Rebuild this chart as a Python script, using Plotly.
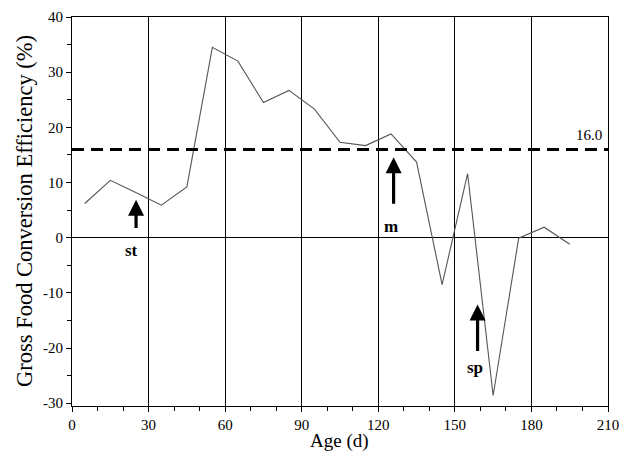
import plotly.graph_objects as go

age = [5, 15, 25, 35, 45, 55, 65, 75, 85, 95, 105, 115, 125, 135, 145, 155, 165, 175, 185, 195]
gce = [6.2, 10.4, 8.2, 5.9, 9.2, 34.5, 32.0, 24.5, 26.7, 23.3, 17.3, 16.7, 18.8, 13.7, -8.5, 11.6, -28.6, -0.1, 1.9, -1.2]
threshold = 16.0
x_ticks = [0, 30, 60, 90, 120, 150, 180, 210]
y_ticks = [-30, -20, -10, 0, 10, 20, 30, 40]
y_ticklabels = ["-30", "-20", "-10", "0", "10", "20", "30", "40"]

# arrows: label, x, tail y, head y, label y
arrow_labels = ["st", "m", "sp"]
arrow_x = [25.1, 126.0, 158.9]
arrow_tail = [1.5, 5.9, -20.8]
arrow_head = [6.9, 14.6, -12.1]
label_x = [23.4, 124.8, 158.0]
label_y = [-2.4, 2.0, -23.5]

serif = "Liberation Serif, Times New Roman, serif"

fig = go.Figure()
fig.add_trace(go.Scatter(x=age, y=gce, mode="lines",
                         line=dict(color="#555555", width=1.1), showlegend=False))
fig.add_trace(go.Scatter(x=[0, 210], y=[threshold, threshold], mode="lines",
                         line=dict(color="black", width=3, dash="12px,7px"), showlegend=False))

ann = [dict(x=202.5, y=threshold, text=f"{threshold:.1f}", showarrow=False, xanchor="center",
            yanchor="bottom", yshift=4, font=dict(family=serif, size=15, color="black"))]
for lab, ax_, t, h, lx, ly in zip(arrow_labels, arrow_x, arrow_tail, arrow_head, label_x, label_y):
    ann.append(dict(x=ax_, y=h, ax=ax_, ay=t, xref="x", yref="y", axref="x", ayref="y",
                    showarrow=True, arrowhead=2, arrowsize=1, arrowwidth=3.2, arrowcolor="black",
                    text=""))
    ann.append(dict(x=lx, y=ly, text=f"<b>{lab}</b>", showarrow=False,
                    font=dict(family=serif, size=17, color="black")))
ann.append(dict(x=339, y=441, xref="paper", yref="paper", text="Age (d)", showarrow=False,
                xanchor="center", yanchor="middle",
                font=dict(family=serif, size=19, color="black")))
ann.append(dict(x=24, y=211, xref="paper", yref="paper", text="Gross Food Conversion Efficiency (%)",
                showarrow=False, textangle=-90, xanchor="center", yanchor="middle",
                font=dict(family=serif, size=22.5, color="black")))
# convert pixel positions to paper fractions
W, H, L, R, T, B = 619, 451, 72, 11, 17, 45
pw, ph = W - L - R, H - T - B
for a in ann[-2:]:
    a["x"] = (a["x"] - L) / pw
    a["y"] = (H - B - a["y"]) / ph

fig.update_layout(
    width=W, height=H,
    margin=dict(l=L, r=R, t=T, b=B, autoexpand=False),
    plot_bgcolor="white", paper_bgcolor="white",
    font=dict(family=serif, size=15, color="black"),
    annotations=ann,
    xaxis=dict(range=[0, 210], tickvals=x_ticks, showgrid=True, gridcolor="black", gridwidth=1,
               showline=True, linecolor="black", linewidth=1, mirror=True, automargin=False,
               ticks="outside", ticklen=5, tickcolor="black", zeroline=False,
               ticklabeloverflow="allow",
               minor=dict(dtick=10, tick0=0, ticks="outside", ticklen=4, tickcolor="black", showgrid=False),
               tickfont=dict(size=15)),
    yaxis=dict(range=[-30.5, 40], tickvals=y_ticks, ticktext=y_ticklabels, showgrid=False,
               showline=True, linecolor="black", linewidth=1, mirror=True, automargin=False,
               ticks="outside", ticklen=5, tickcolor="black",
               zeroline=True, zerolinecolor="black", zerolinewidth=1,
               ticklabeloverflow="allow",
               minor=dict(dtick=5, tick0=0, ticks="outside", ticklen=4, tickcolor="black", showgrid=False),
               tickfont=dict(size=15)),
)
fig.write_html("out.html", config={"displayModeBar": False},
               post_script="document.body.style.margin='0';document.body.style.overflow='hidden';")
